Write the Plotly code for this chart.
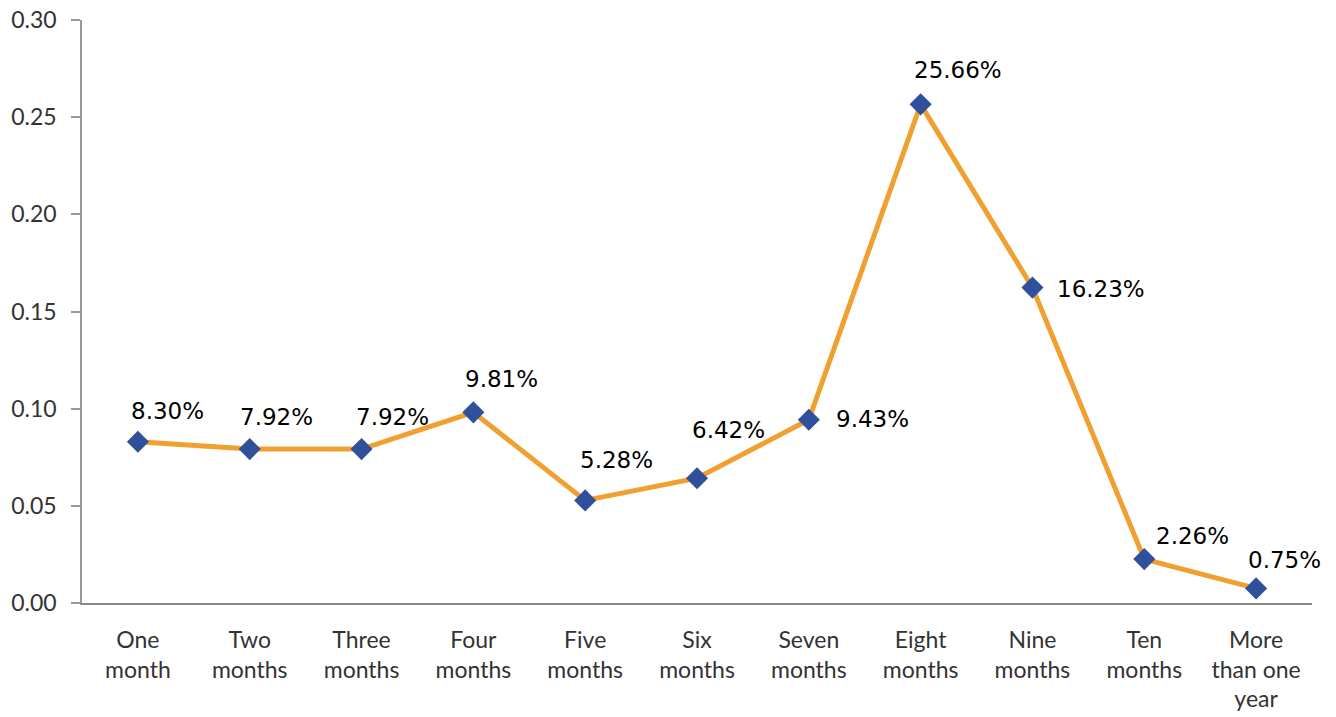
import plotly.graph_objects as go

CATEGORIES = ["One<br>month", "Two<br>months", "Three<br>months", "Four<br>months",
              "Five<br>months", "Six<br>months", "Seven<br>months", "Eight<br>months",
              "Nine<br>months", "Ten<br>months", "More<br>than one<br>year"]
SHARES = [0.0830, 0.0792, 0.0792, 0.0981, 0.0528, 0.0642, 0.0943, 0.2566, 0.1623, 0.0226, 0.0075]

# pixel offsets of each data label relative to its marker
LABEL_SHIFTS = [(30, 31), (27, 32), (31, 32), (28, 33), (31, 40), (31, 48),
                (64, 1), (37, 34), (69, -1), (48, 23), (28, 28)]

LINE_COLOR = '#F0A030'
MARKER_COLOR = '#30509C'
TEXT_COLOR = '#333333'

fig = go.Figure(
    go.Scatter(
        x=CATEGORIES,
        y=SHARES,
        mode='lines+markers',
        line=dict(color=LINE_COLOR, width=5),
        marker=dict(symbol='diamond', size=17, color=MARKER_COLOR),
        showlegend=False,
        hovertemplate='%{y:.2%}<extra></extra>'
    )
)

for cat, val, (dx, dy) in zip(CATEGORIES, SHARES, LABEL_SHIFTS):
    fig.add_annotation(
        x=cat, y=val, text=f'{val * 100:.2f}%',
        showarrow=False, xanchor='center', yanchor='middle',
        xshift=dx, yshift=dy,
        font=dict(family='DejaVu Sans', size=23, color='#000000')
    )

fig.update_layout(
    width=1336,
    height=717,
    paper_bgcolor='white',
    plot_bgcolor='white',
    margin=dict(l=82, r=24, t=20, b=114),
    font=dict(family='Lato', size=23, color=TEXT_COLOR),
    xaxis=dict(
        type='category',
        range=[-0.5, len(CATEGORIES) - 0.5],
        automargin=False,
        showgrid=False, zeroline=False,
        showline=True, linecolor='#8a8a8a', linewidth=2,
        ticks='', ticklabelstandoff=15,
        ticklabeloverflow='allow',
        tickfont=dict(family='Lato', size=23, color=TEXT_COLOR)
    ),
    yaxis=dict(
        range=[0, 0.30], dtick=0.05, tickformat='.2f',
        automargin=False,
        showgrid=False, zeroline=False,
        showline=True, linecolor='#9a9a9a', linewidth=1.5,
        ticks='outside', ticklen=9, tickcolor='#9a9a9a', tickwidth=1.5,
        ticklabelstandoff=10,
        ticklabeloverflow='allow',
        tickfont=dict(family='Lato', size=23, color=TEXT_COLOR)
    )
)

# drop the default page margin so the figure fills the window exactly
fig.write_html(
    "out.html",
    config=dict(displayModeBar=False),
    post_script="document.body.style.margin = '0';"
)
